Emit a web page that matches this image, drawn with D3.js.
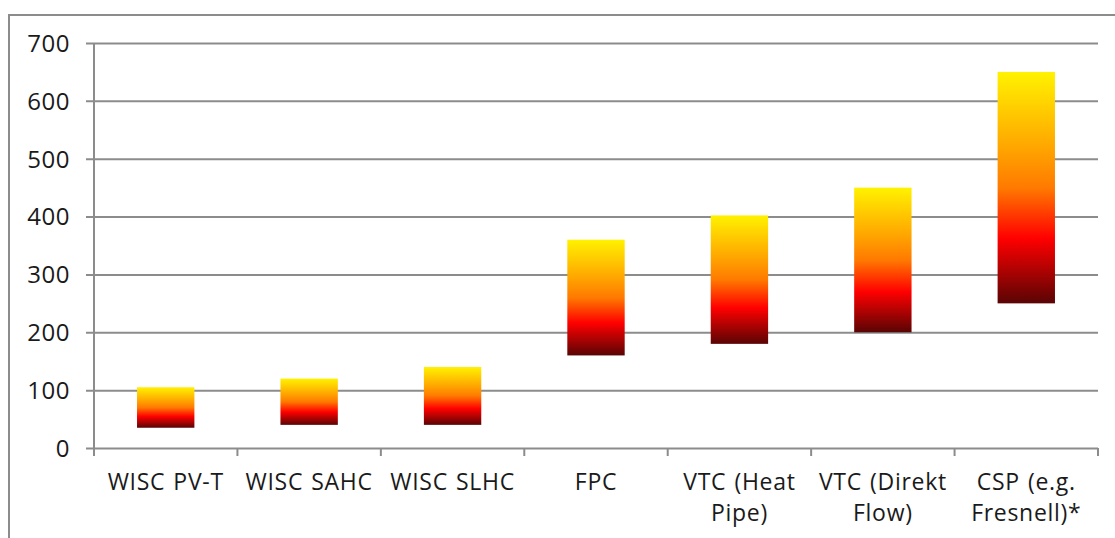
<!DOCTYPE html>
<html lang="en">
<head>
    <meta charset="UTF-8">
    <title>Temperature ranges of solar collectors</title>
    <style>
        body, html {
            margin: 0;
            padding: 0;
            width: 100%;
            height: 100%;
            overflow: hidden;
            background: #fff;
        }
        text {
            font-family: "Open Sans", sans-serif;
            fill: #1a1a1a;
        }
    </style>
</head>
<body>
    <script src="https://d3js.org/d3.v7.min.js"></script>
    <script>
        // Chart data
        var categories = ["WISC PV-T", "WISC SAHC", "WISC SLHC", "FPC", "VTC (Heat Pipe)", "VTC (Direkt Flow)", "CSP (e.g. Fresnell)*"];
        var labelLines = [["WISC PV-T"], ["WISC SAHC"], ["WISC SLHC"], ["FPC"], ["VTC (Heat", "Pipe)"], ["VTC (Direkt", "Flow)"], ["CSP (e.g.", "Fresnell)*"]];
        var lowValues = [35, 40, 40, 160, 180, 200, 250];
        var highValues = [105, 120, 140, 360, 402, 450, 650];
        var yTicks = [0, 100, 200, 300, 400, 500, 600, 700];

        var width = 1115;
        var height = 538;
        var margin = {left: 94, right: 17, top: 43, bottom: 90};

        var svg = d3.select("body")
            .append("svg")
            .attr("width", width)
            .attr("height", height);

        // outer frame (open on the right/bottom like the cropped original)
        svg.append("path")
            .attr("d", "M9,538 V15 H1115")
            .attr("fill", "none")
            .attr("stroke", "#8c8c8c")
            .attr("stroke-width", 2);

        var x = d3.scaleBand()
            .domain(categories)
            .range([margin.left, width - margin.right])
            .paddingInner(0.6)
            .paddingOuter(0.3);

        var y = d3.scaleLinear()
            .domain([0, 700])
            .range([height - margin.bottom, margin.top]);

        // gradient for the bars
        var defs = svg.append("defs");
        var grad = defs.append("linearGradient")
            .attr("id", "heat")
            .attr("x1", 0).attr("y1", 0)
            .attr("x2", 0).attr("y2", 1);
        grad.append("stop").attr("offset", "0%").attr("stop-color", "#fff200");
        grad.append("stop").attr("offset", "33%").attr("stop-color", "#ffa500");
        grad.append("stop").attr("offset", "50%").attr("stop-color", "#ff7a00");
        grad.append("stop").attr("offset", "72%").attr("stop-color", "#ff0000");
        grad.append("stop").attr("offset", "100%").attr("stop-color", "#5a0404");

        // horizontal gridlines + y ticks
        var yAxis = svg.append("g")
            .attr("transform", "translate(" + margin.left + ",0)")
            .call(d3.axisLeft(y)
                .tickValues(yTicks)
                .tickSize(-(width - margin.left - margin.right))
                .tickPadding(24));
        yAxis.select(".domain").remove();
        yAxis.selectAll(".tick line")
            .attr("stroke", "#8c8c8c")
            .attr("stroke-width", 2)
            .attr("x1", -8);
        yAxis.selectAll(".tick text")
            .attr("font-size", 24)
            .attr("letter-spacing", 0.5)
            .attr("dy", "0.35em");

        // left axis line
        svg.append("line")
            .attr("x1", margin.left).attr("x2", margin.left)
            .attr("y1", y(700)).attr("y2", y(0) + 8)
            .attr("stroke", "#8c8c8c")
            .attr("stroke-width", 2);

        // category boundary ticks on x axis
        var bounds = d3.range(categories.length + 1).map(function(i) {
            return margin.left + i * (width - margin.left - margin.right) / categories.length;
        });
        svg.selectAll(".xtick")
            .data(bounds)
            .enter()
            .append("line")
            .attr("x1", function(d) { return d; })
            .attr("x2", function(d) { return d; })
            .attr("y1", y(0))
            .attr("y2", y(0) + 8)
            .attr("stroke", "#8c8c8c")
            .attr("stroke-width", 2);

        // floating bars
        svg.selectAll(".bar")
            .data(categories)
            .enter()
            .append("rect")
            .attr("x", function(d) { return x(d); })
            .attr("width", x.bandwidth())
            .attr("y", function(d, i) { return y(highValues[i]); })
            .attr("height", function(d, i) { return y(lowValues[i]) - y(highValues[i]); })
            .attr("fill", "url(#heat)");

        // category labels
        var labels = svg.selectAll(".xlabel")
            .data(categories)
            .enter()
            .append("text")
            .attr("text-anchor", "middle")
            .attr("font-size", 23)
            .attr("letter-spacing", 0.7)
            .attr("word-spacing", 1.5)
            .attr("x", function(d) { return x(d) + x.bandwidth() / 2; })
            .attr("y", 490);
        labels.selectAll("tspan")
            .data(function(d, i) { return labelLines[i]; })
            .enter()
            .append("tspan")
            .attr("x", function() { var p = this.parentNode; return p.getAttribute("x"); })
            .attr("dy", function(d, i) { return i === 0 ? 0 : 31; })
            .text(function(d) { return d; });
    </script>
</body>
</html>
